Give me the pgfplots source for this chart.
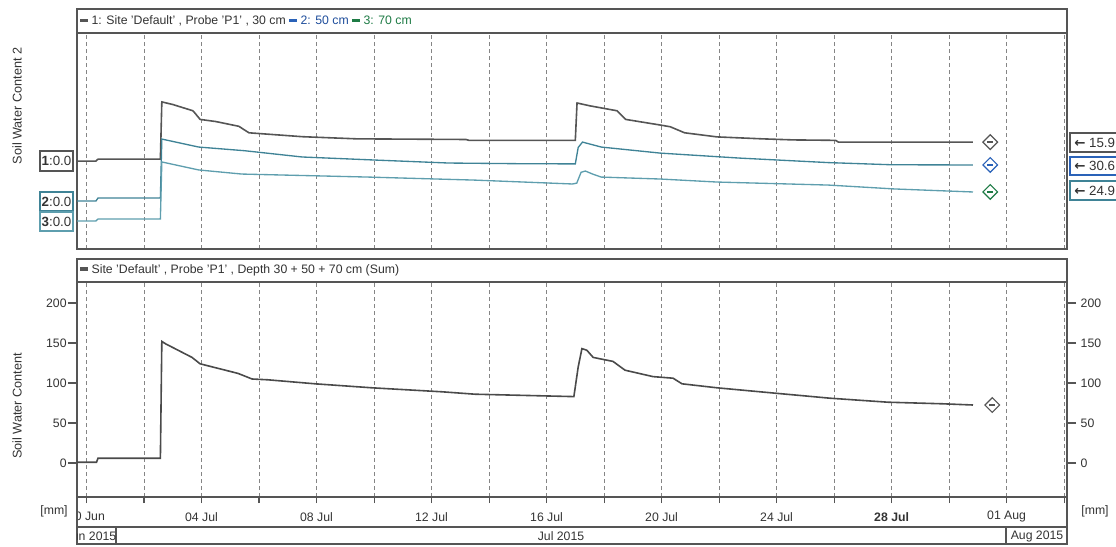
\documentclass[border=0pt]{standalone}
\usepackage{pgfplots}
\pgfplotsset{compat=1.18}
\usepackage{pgfplotstable}
\usepackage{fontspec}
\setmainfont{Liberation Sans}
\newfontfamily\symfont{DejaVu Sans}
\definecolor{frame}{HTML}{555555}
\definecolor{s1}{HTML}{555555}
\definecolor{s2}{HTML}{3F8396}
\definecolor{s3}{HTML}{5E9EAE}
\definecolor{sumc}{HTML}{4A4A4A}
\definecolor{gridc}{HTML}{858585}
\definecolor{lblue}{HTML}{1F4E9C}
\definecolor{lgreen}{HTML}{1E7B45}
\definecolor{mblue}{HTML}{2A62B8}
\definecolor{txt}{HTML}{333333}
\newcommand\fs{\fontsize{9.2pt}{11pt}\selectfont}
\newcommand\fb{\fontsize{10pt}{12pt}\selectfont}

\pgfplotstableread{
d v
-0.40 40.7
0.33 40.7
0.40 41.6
2.57 41.6
2.62 68.1
3.00 66.9
3.70 64.0
3.78 62.8
3.95 60.0
4.50 59.0
5.30 56.8
5.45 55.5
5.65 53.8
7.50 52.0
9.40 51.0
13.20 50.7
13.30 50.3
17.00 50.3
17.06 67.6
17.50 66.3
18.20 64.6
18.45 64.0
18.75 60.0
19.95 57.4
20.30 56.6
20.80 53.8
21.93 51.9
23.50 51.0
24.60 50.5
26.05 50.3
26.15 49.5
30.83 49.5
}\seriesA

\pgfplotstableread{
d v
-0.40 22.2
0.33 22.2
0.40 23.6
2.57 23.6
2.62 50.9
3.90 47.2
5.50 45.5
7.50 42.6
10.00 41.2
12.60 39.8
15.00 39.5
17.00 39.4
17.10 47.0
17.25 49.5
17.90 47.2
19.95 44.4
22.70 42.1
25.80 40.0
28.00 39.0
30.83 38.9
}\seriesB

\pgfplotstableread{
d v
-0.40 13.0
0.33 13.0
0.40 13.9
2.57 13.9
2.62 40.3
3.90 36.6
5.40 34.7
9.80 33.3
13.50 31.9
16.90 30.1
17.05 30.5
17.20 35.5
17.35 36.1
17.60 34.7
17.90 33.3
19.95 32.4
21.93 31.0
25.80 29.6
28.10 27.8
30.83 26.4
}\seriesC

\pgfplotstableread{
d v
-0.40 1
0.35 1
0.40 6
2.57 6
2.62 152
2.75 149
3.67 132
3.95 124
5.27 112
5.76 105
6.31 104
7.95 99
9.93 94
12.37 89
13.51 86
16.95 83
17.10 120
17.23 143
17.40 141
17.62 132
18.31 127
18.73 116
19.70 108
20.40 106
20.71 99
21.93 94
23.88 87.5
25.86 81
27.87 76
29.79 74
30.83 72.5
}\seriesSum

\pgfplotsset{panel/.style={
  scale only axis, width=742.5pt, anchor=south west,
  xmin=-0.33, xmax=34.1,
  xtick={0,2,...,34},
  xmajorgrids=true, ymajorgrids=false,
  major grid style={gridc, dash pattern=on 3pt off 2.25pt, line width=0.6pt},
  axis line style={frame, line width=1.1pt},
  every tick/.style={frame, line width=0.8pt},
  /pgf/number format/assume math mode=true,
  tick label style={font=\fs, text=txt},
}}

\begin{document}
\begin{tikzpicture}[font=\fs]
\useasboundingbox (0pt,0pt) rectangle (837pt,-409.5pt);

% top panel
\begin{axis}[panel, at={(57.75pt,-186.75pt)}, height=162pt,
  ymin=0, ymax=100, ytick=\empty, xticklabels={}, major tick length=0pt]
\addplot[s1, line width=1.2pt] table[x=d,y=v]{\seriesA};
\addplot[s2, line width=1.0pt] table[x=d,y=v]{\seriesB};
\addplot[s3, line width=1.0pt] table[x=d,y=v]{\seriesC};
\addplot[only marks, mark=square, mark size=3.9pt, mark options={rotate=45, draw=s1, fill=white, line width=0.9pt}] coordinates {(31.43,49.5)};
\addplot[only marks, mark=square, mark size=3.9pt, mark options={rotate=45, draw=mblue, fill=white, line width=0.9pt}] coordinates {(31.43,38.9)};
\addplot[only marks, mark=square, mark size=3.9pt, mark options={rotate=45, draw=lgreen, fill=white, line width=0.9pt}] coordinates {(31.43,26.4)};
\addplot[only marks, mark=-, mark size=2.2pt, mark options={s1, line width=0.9pt}] coordinates {(31.43,49.5)};
\addplot[only marks, mark=-, mark size=2.2pt, mark options={mblue, line width=0.9pt}] coordinates {(31.43,38.9)};
\addplot[only marks, mark=-, mark size=2.2pt, mark options={lgreen, line width=0.9pt}] coordinates {(31.43,26.4)};
\end{axis}

% bottom panel
\begin{axis}[panel, at={(57.75pt,-372.75pt)}, height=161.25pt,
  ymin=-42.5, ymax=226.25, ytick={0,50,...,200},
  xtick pos=bottom, ytick pos=left,
  tick align=outside,
  xtick style={/pgfplots/major tick length=4.5pt},
  ytick style={/pgfplots/major tick length=6.75pt},
  xticklabels={30 Jun,,04 Jul,,08 Jul,,12 Jul,,16 Jul,,20 Jul,,24 Jul,,\textbf{28 Jul},,01 Aug,},
  xticklabel style={anchor=center, yshift=-10.5pt},
  yticklabel style={anchor=east, xshift=0pt}]
\addplot[sumc, line width=1.2pt] table[x=d,y=v]{\seriesSum};
\addplot[only marks, mark=square, mark size=3.9pt, mark options={rotate=45, draw=s1, fill=white, line width=0.9pt}] coordinates {(31.5,72.5)};
\addplot[only marks, mark=-, mark size=2.2pt, mark options={s1, line width=0.9pt}] coordinates {(31.5,72.5)};
\end{axis}

\begin{axis}[scale only axis, width=742.5pt, height=161.25pt, anchor=south west,
  at={(57.75pt,-372.75pt)},
  xmin=-0.33, xmax=34.1, ymin=-42.5, ymax=226.25,
  axis x line=none, axis y line*=right,
  axis line style={frame, line width=1.1pt},
  ytick={0,50,...,200}, tick align=outside,
  major tick length=6.75pt,
  every tick/.style={frame, line width=0.8pt},
  /pgf/number format/assume math mode=true,
  tick label style={font=\fs, text=txt},
  yticklabel style={anchor=west, xshift=0pt}]
\addplot[draw=none] coordinates {(0,0)};
\end{axis}

\begin{scope}[x=0.75pt,y=-0.75pt]
% legend boxes
\draw[frame, line width=1.1pt, fill=white] (77,9) rectangle (1067,33);
\node[anchor=west, inner sep=0pt, text=txt] at (80,21) {\textcolor{s1}{\rule[2pt]{6pt}{2.6pt}} 1: Site 'Default' , Probe 'P1' , 30 cm \textcolor{mblue}{\rule[2pt]{6pt}{2.6pt}} \textcolor{lblue}{2: 50 cm} \textcolor{lgreen}{\rule[2pt]{6pt}{2.6pt}} \textcolor{lgreen}{3: 70 cm}};
\draw[frame, line width=1.1pt, fill=white] (77,259) rectangle (1067,282);
\node[anchor=west, inner sep=0pt, text=txt] at (80,270) {\textcolor{s1}{\rule[2pt]{6pt}{2.6pt}} Site 'Default' , Probe 'P1' , Depth 30 + 50 + 70 cm (Sum)};

% left value boxes
\draw[s1, line width=1.4pt, fill=white] (40,151) rectangle (73,171);
\node[text=txt, font=\fb] at (56.5,161) {\textbf{1}:0.0};
\draw[s2, line width=1.0pt, fill=white] (40,192) rectangle (73,211);
\node[text=txt, font=\fb] at (56.5,201.5) {\textbf{2}:0.0};
\draw[s3, line width=1.0pt, fill=white] (40,212) rectangle (73,231);
\node[text=txt, font=\fb] at (56.5,221.5) {\textbf{3}:0.0};

% right value boxes
\draw[s1, line width=1.6pt, fill=white] (1070,133) rectangle (1122,152);
\node[anchor=west, inner sep=0pt, text=txt, font=\fb] at (1074,142.5) {{\symfont\bfseries ←} 15.9};
\draw[mblue, line width=1.0pt, fill=white] (1070,157) rectangle (1122,175);
\node[anchor=west, inner sep=0pt, text=txt, font=\fb] at (1074,166) {{\symfont\bfseries ←} 30.6};
\draw[s2, line width=1.0pt, fill=white] (1070,181) rectangle (1122,200);
\node[anchor=west, inner sep=0pt, text=txt, font=\fb] at (1074,190.5) {{\symfont\bfseries ←} 24.9};

% axis titles
\node[rotate=90, text=txt, font=\fontsize{9.5pt}{11pt}\selectfont] at (17,106) {Soil Water Content 2};
\node[rotate=90, text=txt, font=\fontsize{9.5pt}{11pt}\selectfont] at (17,406) {Soil Water Content};

% date rows
\fill[white] (55,499) rectangle (76.2,526);
\draw[frame, line width=1.1pt] (77,497) rectangle (1067,527);
\draw[frame, line width=1.1pt] (77,527) rectangle (1067,544);
\draw[frame, line width=1.1pt] (116,527) -- (116,544);
\draw[frame, line width=1.1pt] (1006,527) -- (1006,544);
\begin{scope}
\clip (77,527) rectangle (116,544);
\node[anchor=east, inner sep=0pt, text=txt] at (116.5,536) {Jun 2015};
\end{scope}
\node[text=txt] at (561,536) {Jul 2015};
\node[text=txt] at (1037,536) {Aug 2015};
\node[text=txt] at (54,511) {[mm]};
\node[text=txt] at (1095,511) {[mm]};
\end{scope}
\end{tikzpicture}
\end{document}
